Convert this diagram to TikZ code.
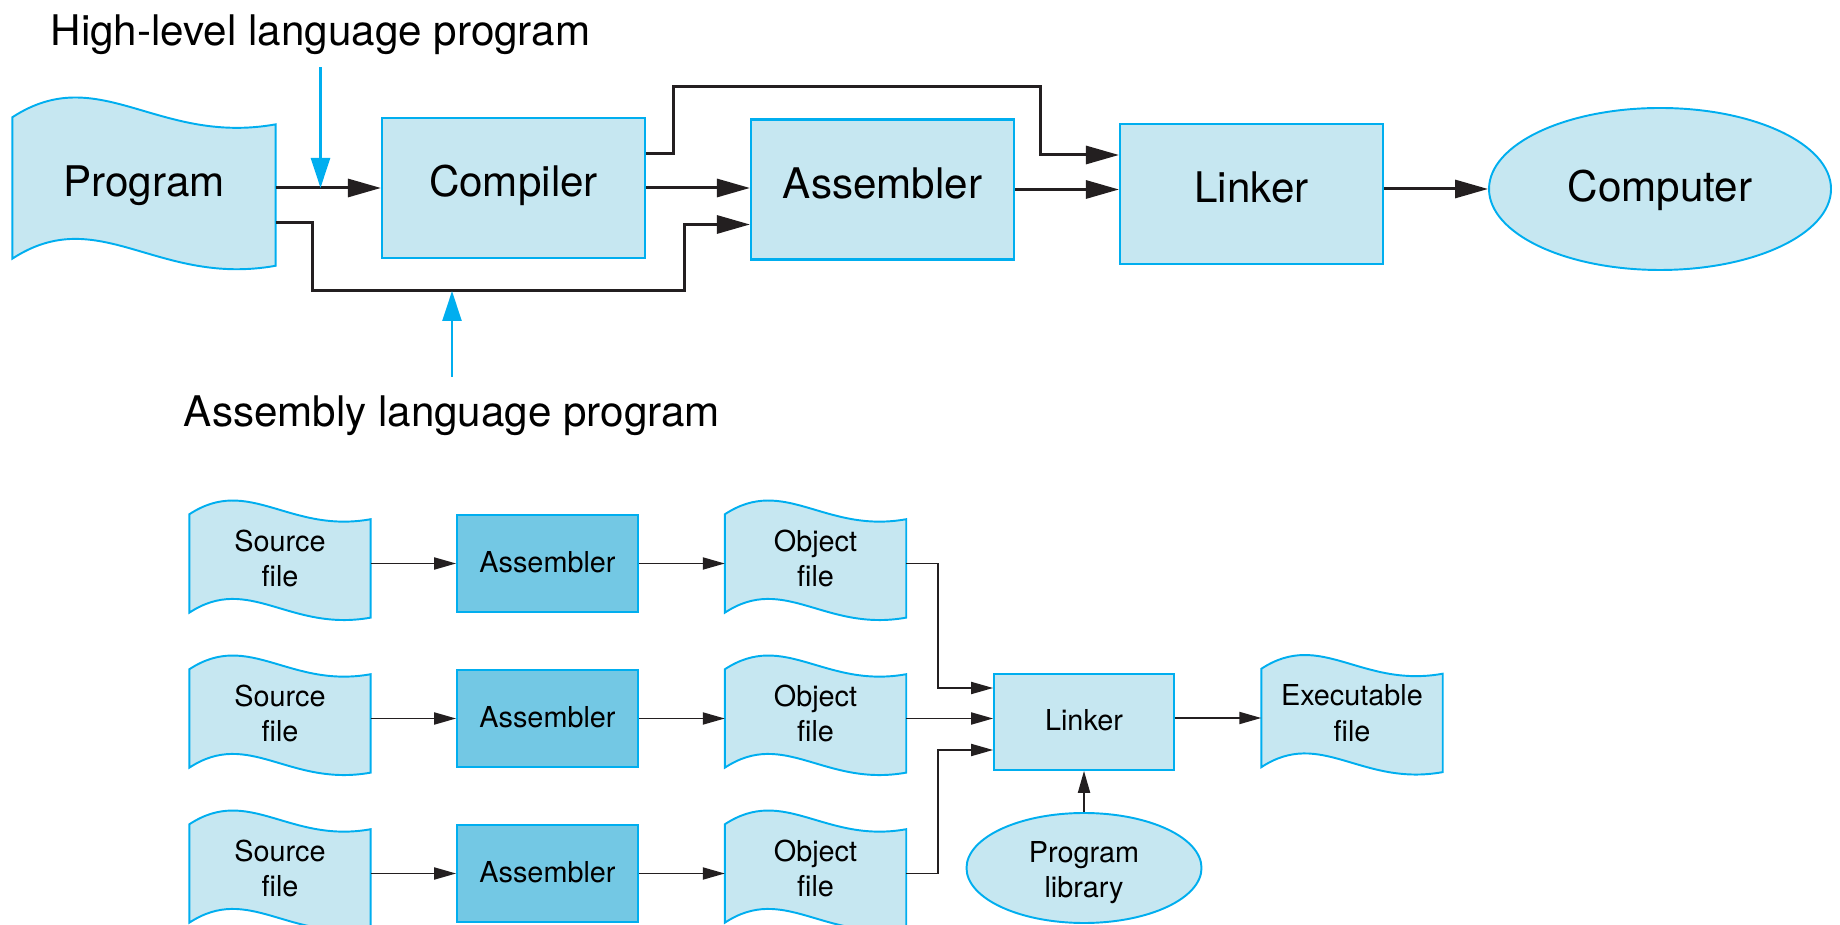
\documentclass[tikz,border=0pt]{standalone}
\usepackage{fontspec}
\setmainfont{TeX Gyre Heros}
\usetikzlibrary{arrows.meta,backgrounds,calc,shapes.geometric}

\definecolor{paleblue}{RGB}{198,231,241}
\definecolor{midblue}{RGB}{115,200,228}
\definecolor{cyanline}{RGB}{0,174,239}
\definecolor{inkblack}{RGB}{35,31,32}

% wavy paper outline round a named node
\newcommand{\wavydoc}[1]{%
  \path[docline] let \p1 = (#1.north west), \p2 = (#1.south east),
    \n1 = {\x2-\x1}, \n2 = {\y1-\y2} in
    (\x1,\y1) .. controls (\x1+0.33*\n1,\y1+0.4*\n2) and (\x1+0.55*\n1,\y1-0.2*\n2) .. (\x2,\y1-0.05*\n2)
    -- (\x2,\y2-0.05*\n2) .. controls (\x1+0.55*\n1,\y2-0.2*\n2) and (\x1+0.33*\n1,\y2+0.4*\n2) .. (\x1,\y2)
    -- cycle;}

\begin{document}
\begin{tikzpicture}[
    big/.style={font=\fontsize{12}{14}\selectfont},
    small/.style={font=\fontsize{8.2}{10}\selectfont, align=center},
    topbox/.style={big, draw=cyanline, fill=paleblue, line width=0.6pt,
      minimum width=2.63cm, minimum height=1.4cm, inner sep=0,
      text height=0.72em, text depth=0.21em},
    bigdoc/.style={big, minimum width=2.62cm, minimum height=1.4cm, inner sep=0,
      text height=0.72em, text depth=0.21em},
    smalldoc/.style={small, minimum width=1.8cm, minimum height=0.97cm, inner sep=0,
      text depth=2.85pt},
    docline/.style={draw=cyanline, fill=paleblue, line width=0.55pt},
    asmbox/.style={small, draw=cyanline, fill=midblue, line width=0.5pt,
      minimum width=1.81cm, minimum height=0.97cm, inner sep=0,
      text height=0.72em, text depth=0.21em},
    linkbox/.style={small, draw=cyanline, fill=paleblue, line width=0.5pt,
      minimum width=1.8cm, minimum height=0.96cm, inner sep=0,
      text height=0.72em, text depth=0.21em},
    oval/.style={ellipse, draw=cyanline, fill=paleblue, line width=0.55pt, inner sep=0},
    flow/.style={draw=inkblack, line width=0.85pt, -{Triangle[length=0.33cm,width=0.18cm]}},
    thinflow/.style={draw=inkblack, line width=0.55pt, -{Triangle[length=0.22cm,width=0.12cm]}},
    cue/.style={draw=cyanline, line width=0.7pt, -{Triangle[length=0.3cm,width=0.19cm]}}
  ]
    \useasboundingbox (0,0) rectangle (18.4,-9.25);

    % translation chain
    \node[big, inner sep=0] (hll) at (3.205,-0.345) {High-level language program};
    \node[bigdoc] (prog) at (1.44,-1.88) {Program};
    \node[topbox] (comp) at (5.135,-1.88) {Compiler};
    \node[topbox] (asm) at (8.825,-1.895) {Assembler};
    \node[topbox] (link) at (12.515,-1.94) {Linker};
    \node[oval, big, minimum width=3.42cm, minimum height=1.62cm,
      text height=0.72em, text depth=0pt] (cpu) at (16.6,-1.89) {Computer};
    \node[big, inner sep=0] (alp) at (4.52,-4.16) {Assembly language program};
    \coordinate (low) at (3.125,-2.91);
    \coordinate (high) at (6.73,-0.87);

    \draw[flow] (prog) -- (comp);
    \draw[flow] (comp.east) -- (comp.east -| asm.west);
    \draw[flow] (asm.east) -- (asm.east -| link.west);
    \draw[flow] (cpu.west -| link.east) -- (cpu.west);
    \draw[flow] ([yshift=-0.35cm]prog.east) -| (low)
      -| ([xshift=-0.65cm,yshift=-0.35cm]asm.west) -- ([yshift=-0.35cm]asm.west);
    \draw[flow] ([yshift=0.34cm]comp.east) -| (high)
      -| ([xshift=-0.78cm,yshift=0.39cm]link.west) -- ([yshift=0.39cm]link.west);

    \draw[cue, shorten <=0.12cm] (hll) -- (hll |- prog.east);
    \draw[cue, shorten <=0.185cm] (alp) -- (alp |- low);

    % separate assembly and linking
    \foreach \i/\y in {1/-5.635, 2/-7.185, 3/-8.735} {
      \node[smalldoc] (src\i) at (2.8,\y) {Source\\file};
      \node[asmbox] (as\i) at (5.475,\y) {Assembler};
      \node[smalldoc] (obj\i) at (8.155,\y) {Object\\file};
      \draw[thinflow] (src\i) -- (as\i);
      \draw[thinflow] (as\i) -- (obj\i);
    }
    \node[linkbox] (lnk) at (10.84,-7.22) {Linker};
    \node[smalldoc] (exe) at (13.52,-7.18) {Executable\\file};
    \node[oval, small, minimum width=2.35cm, minimum height=1.1cm,
      text height=17pt, text depth=0pt] (lib) at (10.84,-8.68) {Program\\library};

    \draw[thinflow] (obj1.east) -| ([xshift=-0.55cm,yshift=0.34cm]lnk.west) -- ([yshift=0.34cm]lnk.west);
    \draw[thinflow] (obj2.east) -- (obj2.east -| lnk.west);
    \draw[thinflow] (obj3.east) -| ([xshift=-0.55cm,yshift=-0.28cm]lnk.west) -- ([yshift=-0.28cm]lnk.west);
    \draw[thinflow] (exe.west -| lnk.east) -- (exe.west);
    \draw[thinflow] (lib) -- (lnk);

    \begin{scope}[on background layer]
      \foreach \d in {prog,src1,src2,src3,obj1,obj2,obj3,exe} {\wavydoc{\d}}
    \end{scope}
\end{tikzpicture}
\end{document}
